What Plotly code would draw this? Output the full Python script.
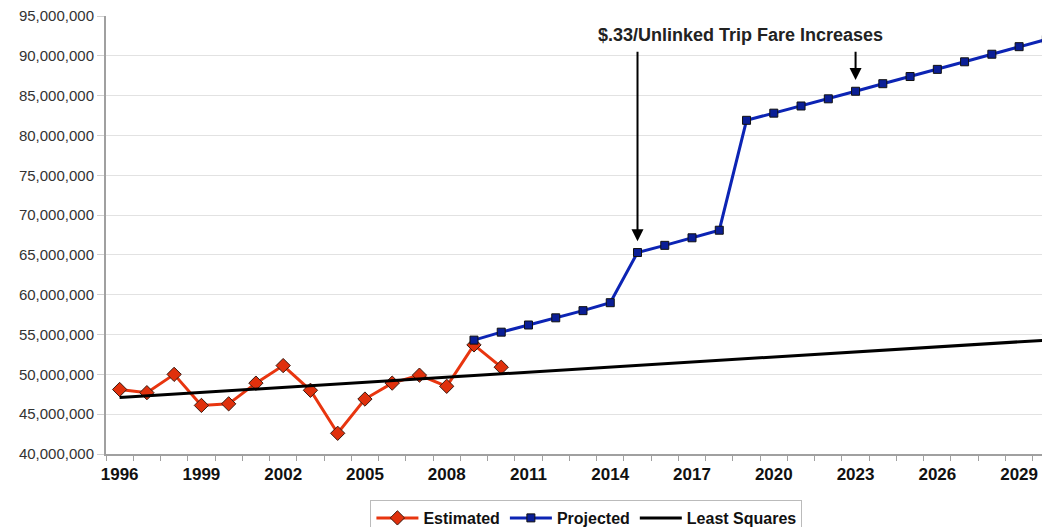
import plotly.graph_objects as go

# ridership
est_years = list(range(1996, 2011))
estimated = [48.1e6, 47.7e6, 50.0e6, 46.1e6, 46.3e6, 48.9e6, 51.1e6, 48.0e6,
             42.6e6, 46.9e6, 48.9e6, 49.9e6, 48.5e6, 53.7e6, 50.9e6]

proj_years = list(range(2009, 2031))
projected = [54.3e6, 55.3e6, 56.2e6, 57.1e6, 58.0e6, 59.0e6, 65.3e6, 66.2e6,
             67.15e6, 68.1e6, 81.9e6, 82.8e6, 83.7e6, 84.6e6, 85.55e6, 86.5e6,
             87.4e6, 88.3e6, 89.25e6, 90.2e6, 91.15e6, 92.05e6]

ls_years = [1996, 2030]
least_squares = [47.1e6, 54.3e6]

fare_years = [2015, 2023]
tick_years = list(range(1996, 2030, 3))

FONT = "Arial, Liberation Sans, sans-serif"

fig = go.Figure()

fig.add_trace(go.Scatter(
    x=est_years, y=estimated, name="Estimated", mode="lines+markers",
    line=dict(color="#E8350F", width=3),
    marker=dict(symbol="diamond", size=11, color="#E0300C",
                line=dict(color="#3a1a10", width=1)),
))
fig.add_trace(go.Scatter(
    x=proj_years, y=projected, name="Projected", mode="lines+markers",
    line=dict(color="#0C24B4", width=3),
    marker=dict(symbol="square", size=8, color="#0A1E96",
                line=dict(color="#111", width=1)),
))
fig.add_trace(go.Scatter(
    x=ls_years, y=least_squares, name="Least Squares", mode="lines",
    line=dict(color="black", width=3),
))

fig.add_annotation(
    x=2018.77, y=92.6e6, text="<b>$.33/Unlinked Trip Fare Increases</b>",
    showarrow=False, font=dict(family=FONT, size=18, color="#222"),
)
for yr in fare_years:
    tip = projected[proj_years.index(yr)] + 1.4e6
    fig.add_annotation(
        x=yr, y=tip, ax=yr, ay=90.7e6, axref="x", ayref="y",
        text="", showarrow=True, arrowhead=2, arrowsize=1.2,
        arrowwidth=2, arrowcolor="black",
    )

# page body has an 8px margin, so the figure is a bit smaller than the window
fig.update_layout(
    width=1042, height=519,
    margin=dict(l=98, r=2, t=8, b=73, autoexpand=False),
    paper_bgcolor="white", plot_bgcolor="white",
    font=dict(family=FONT),
    legend=dict(
        orientation="h", x=0.51, xanchor="center", y=-0.105, yanchor="top",
        font=dict(family=FONT, size=16, color="#111", weight="bold"),
        bordercolor="#bbb", borderwidth=1, itemwidth=42,
        tracegroupgap=0,
    ),
    showlegend=True,
)

fig.update_xaxes(
    range=[1995.5, 2030.06],
    tickvals=tick_years, ticktext=[str(y) for y in tick_years],
    ticks="", showgrid=False, zeroline=False,
    showline=True, linecolor="#a0a0a0", linewidth=2,
    ticklabelstandoff=4, ticklabeloverflow="allow",
    tickfont=dict(family=FONT, size=17, color="#111", weight="bold"),
    minor=dict(tick0=1995.5, dtick=1, ticks="outside", ticklen=5,
               tickcolor="#a0a0a0", showgrid=False),
)
fig.update_yaxes(
    range=[40e6, 95e6], dtick=5e6, tickformat=",d",
    showgrid=True, gridcolor="#e2e2e2", gridwidth=1, zeroline=False,
    showline=True, linecolor="#a0a0a0", linewidth=2,
    ticks="outside", ticklen=7, tickcolor="#d0d0d0",
    ticklabeloverflow="allow",
    tickfont=dict(family=FONT, size=15, color="#333"),
)

fig.write_html("out.html")
